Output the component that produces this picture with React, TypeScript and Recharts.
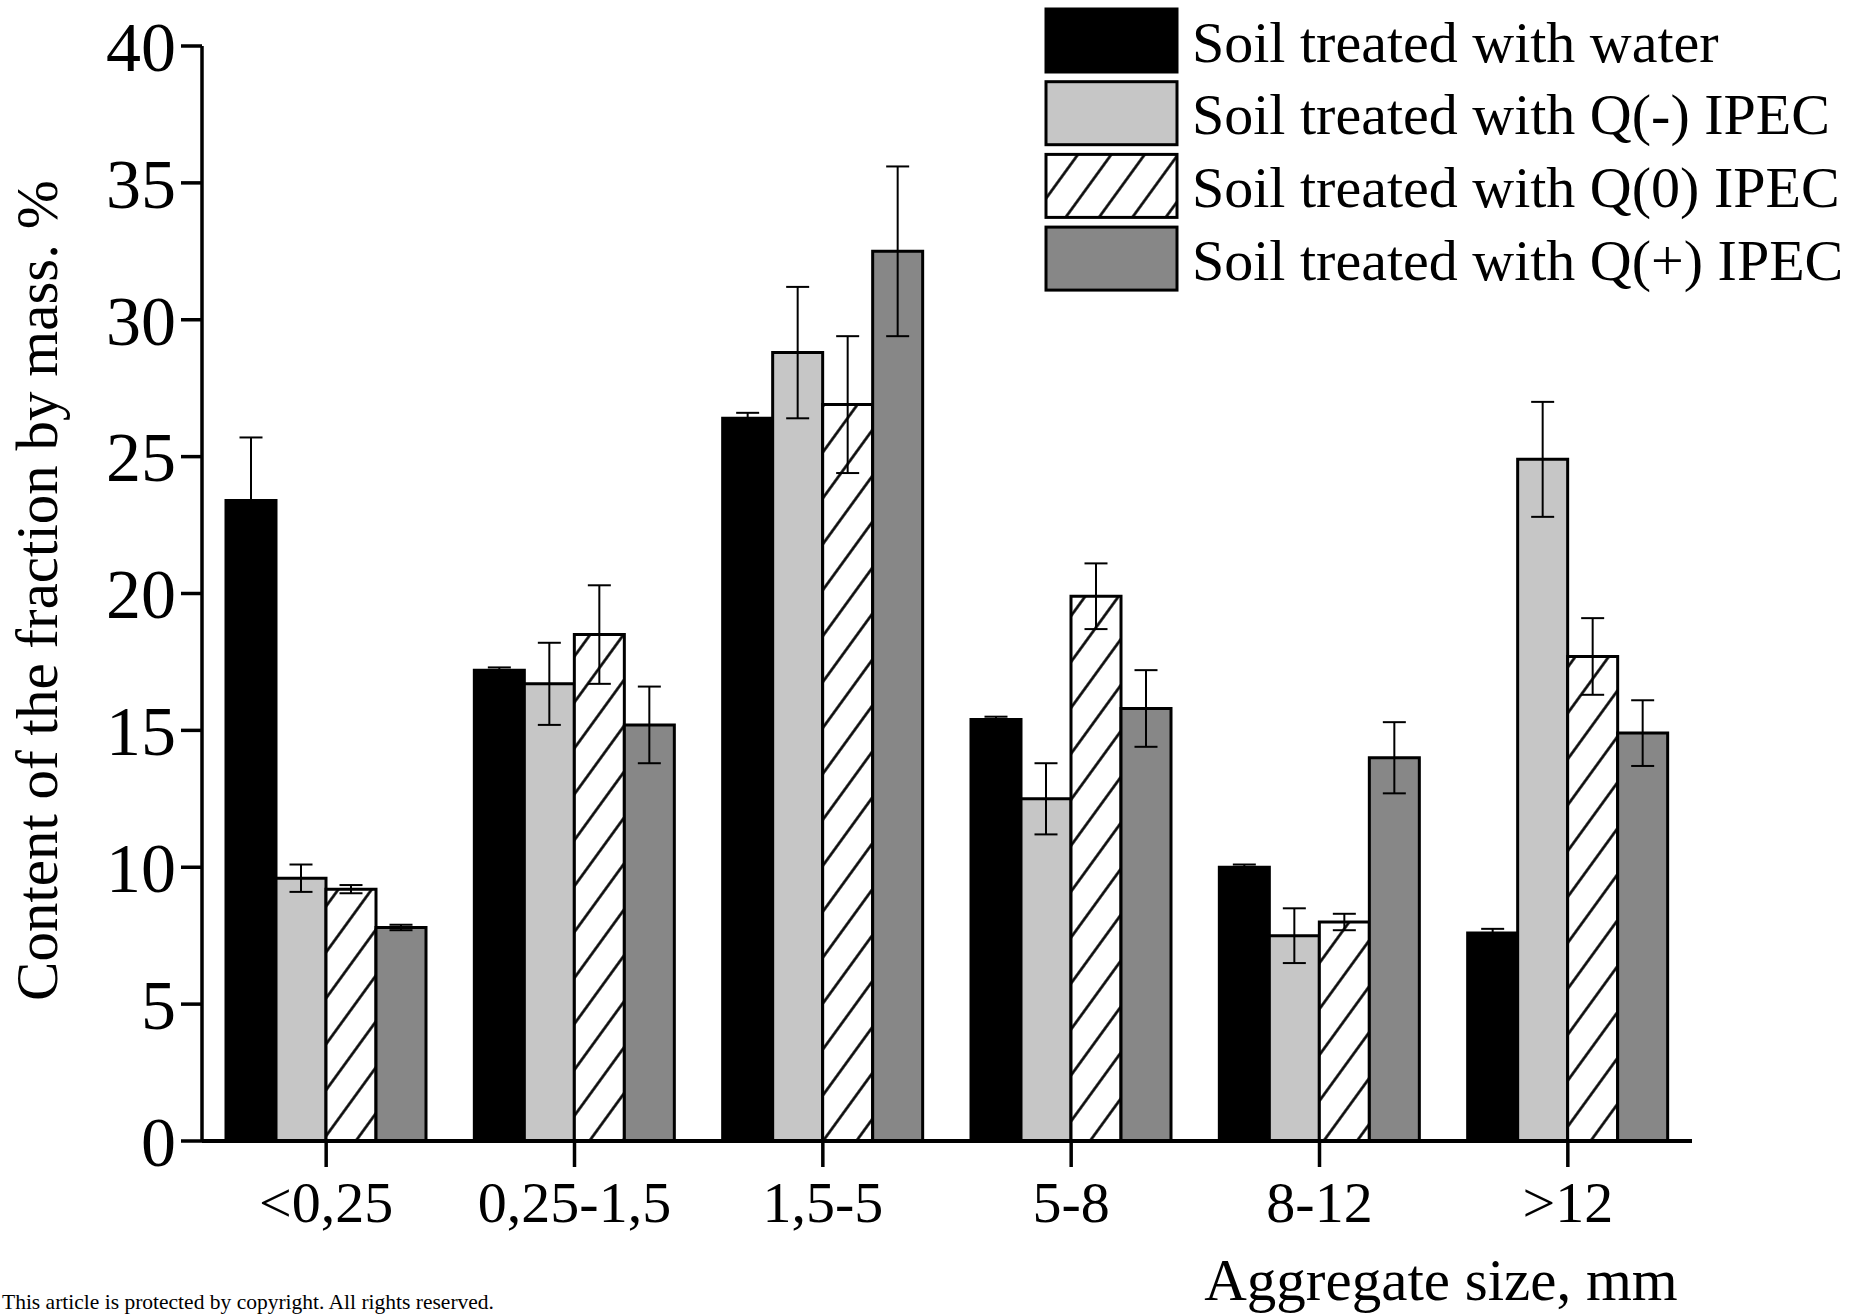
import { BarChart, Bar, XAxis, YAxis, ErrorBar, Legend, Label } from "recharts";

const FONT = '"Liberation Serif", "Times New Roman", serif';

// aggregate size classes
const categories = ["<0,25", "0,25-1,5", "1,5-5", "5-8", "8-12", ">12"];

// content of the fraction, % (mean and error)
const water = [23.4, 17.2, 26.4, 15.4, 10.0, 7.6];
const waterErr = [2.3, 0.1, 0.2, 0.1, 0.1, 0.15];
const qMinus = [9.6, 16.7, 28.8, 12.5, 7.5, 24.9];
const qMinusErr = [0.5, 1.5, 2.4, 1.3, 1.0, 2.1];
const qZero = [9.2, 18.5, 26.9, 19.9, 8.0, 17.7];
const qZeroErr = [0.15, 1.8, 2.5, 1.2, 0.3, 1.4];
const qPlus = [7.8, 15.2, 32.5, 15.8, 14.0, 14.9];
const qPlusErr = [0.1, 1.4, 3.1, 1.4, 1.3, 1.2];

const yTicks = [0, 5, 10, 15, 20, 25, 30, 35, 40];

const series = [
  { key: "water", err: "waterErr", name: "Soil treated with water", fill: "#000000" },
  { key: "qMinus", err: "qMinusErr", name: "Soil treated with Q(-) IPEC", fill: "#c6c6c6" },
  { key: "qZero", err: "qZeroErr", name: "Soil treated with Q(0) IPEC", fill: "url(#hatch)" },
  { key: "qPlus", err: "qPlusErr", name: "Soil treated with Q(+) IPEC", fill: "#878787" },
];

const data = categories.map((c, i) => ({
  category: c,
  water: water[i],
  waterErr: waterErr[i],
  qMinus: qMinus[i],
  qMinusErr: qMinusErr[i],
  qZero: qZero[i],
  qZeroErr: qZeroErr[i],
  qPlus: qPlus[i],
  qPlusErr: qPlusErr[i],
}));

function HatchDefs({ id }: { id: string }) {
  return (
    <defs>
      <pattern id={id} patternUnits="userSpaceOnUse" width={27} height={27} patternTransform="rotate(36)">
        <rect x={0} y={0} width={27} height={27} fill="#fff" />
        <line x1={13.5} y1={-2} x2={13.5} y2={29} stroke="#000" strokeWidth={2.6} />
      </pattern>
    </defs>
  );
}

function LegendBox() {
  const rowStep = 72.7;
  return (
    <svg width={818} height={300} style={{ display: "block" }}>
      <HatchDefs id="hatchLegend" />
      {series.map((s, i) => {
        const top = 9 + i * rowStep;
        return (
          <g key={s.key}>
            <rect
              x={6}
              y={top}
              width={131}
              height={63}
              fill={s.key === "qZero" ? "url(#hatchLegend)" : s.fill}
              stroke="#000"
              strokeWidth={3}
            />
            <text x={152} y={top + 31.5 + 21} fontSize={58} fontFamily={FONT} fill="#000">
              {s.name}
            </text>
          </g>
        );
      })}
    </svg>
  );
}

export default function App() {
  return (
    <div style={{ position: "absolute", left: 0, top: 0, width: 1858, height: 1314, background: "#fff", overflow: "hidden" }}>
      <svg width={0} height={0} style={{ position: "absolute" }}>
        <HatchDefs id="hatch" />
      </svg>
      <BarChart
        width={1858}
        height={1314}
        data={data}
        margin={{ top: 46, right: 166, bottom: 0, left: 0 }}
        barCategoryGap={24}
        barGap={0}
      >
        <XAxis
          dataKey="category"
          height={173}
          interval={0}
          tickSize={26}
          tickMargin={14}
          axisLine={{ stroke: "#000", strokeWidth: 4 }}
          tickLine={{ stroke: "#000", strokeWidth: 3.5 }}
          tick={{ fontSize: 58, fill: "#000", fontFamily: FONT }}
        >
          <Label
            content={(p: any) => {
              const vb = p.viewBox || { x: 202, y: 1141, width: 1490, height: 173 };
              return (
                <text x={vb.x + 1239} y={vb.y + 159} textAnchor="middle" fontSize={59} fontFamily={FONT} fill="#000">
                  Aggregate size, mm
                </text>
              );
            }}
          />
        </XAxis>
        <YAxis
          domain={[0, 40]}
          ticks={yTicks}
          interval={0}
          width={202}
          tickSize={21}
          tickMargin={5}
          axisLine={{ stroke: "#000", strokeWidth: 3.5 }}
          tickLine={{ stroke: "#000", strokeWidth: 3.5 }}
          tick={{ fontSize: 70, fill: "#000", fontFamily: FONT }}
        >
          <Label
            content={(p: any) => {
              const vb = p.viewBox || { x: 0, y: 46, width: 202, height: 1095 };
              const cx = vb.x + 57;
              const cy = vb.y + vb.height / 2 - 3;
              return (
                <text
                  x={cx}
                  y={cy}
                  textAnchor="middle"
                  transform={`rotate(-90 ${cx} ${cy})`}
                  fontSize={59}
                  fontFamily={FONT}
                  fill="#000"
                >
                  Content of the fraction by mass. %
                </text>
              );
            }}
          />
        </YAxis>
        <Legend
          layout="vertical"
          align="center"
          verticalAlign="middle"
          wrapperStyle={{ position: "absolute", left: 1040, top: 0, width: 818, height: 300 }}
          content={() => <LegendBox />}
        />
        {series.map((s) => (
          <Bar
            key={s.key}
            dataKey={s.key}
            name={s.name}
            fill={s.fill}
            stroke="#000"
            strokeWidth={3}
            isAnimationActive={false}
          >
            <ErrorBar
              dataKey={s.err}
              direction="y"
              width={11.5}
              stroke="#000"
              strokeWidth={2}
              isAnimationActive={false}
            />
          </Bar>
        ))}
      </BarChart>
      <div
        style={{
          position: "absolute",
          left: 2,
          top: 1291,
          fontFamily: FONT,
          fontSize: 21.5,
          lineHeight: "22px",
          color: "#000",
          whiteSpace: "nowrap",
        }}
      >
        This article is protected by copyright. All rights reserved.
      </div>
    </div>
  );
}
